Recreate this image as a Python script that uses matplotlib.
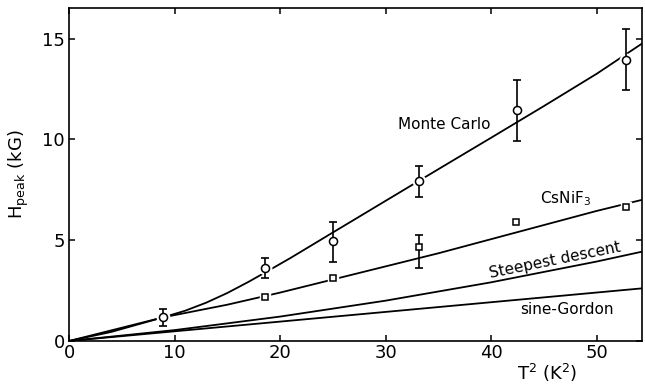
import matplotlib
matplotlib.use('Agg')
import matplotlib.pyplot as plt

plt.rcParams['font.family'] = ['DejaVu Sans']

# Data ########################################################################
# Monte Carlo points (circles) with error bars
mc_x = [8.9, 18.6, 25.0, 33.2, 42.5, 52.8]
mc_y = [1.17, 3.6, 4.95, 7.95, 11.45, 13.95]
mc_lo = [0.74, 3.1, 3.93, 7.12, 9.93, 12.47]
mc_hi = [1.58, 4.1, 5.91, 8.67, 12.93, 15.45]
# CsNiF3 points (squares)
cs_x = [18.6, 25.0, 33.2, 42.4, 52.8]
cs_y = [2.16, 3.1, 4.67, 5.88, 6.66]
cs_err_x = [33.2]
cs_err_lo = [3.6]
cs_err_hi = [5.25]
# curves
mc_curve_x = [0, 4, 8.9, 11, 13, 15, 17, 19, 21, 25, 30, 35, 40, 45, 50, 54.3]
mc_curve_y = [0, 0.45, 1.17, 1.5, 1.9, 2.38, 2.93, 3.52, 4.12, 5.38, 6.95,
              8.52, 10.08, 11.65, 13.25, 14.75]
cs_curve_x = [0, 8.9, 15, 20, 25, 30, 35, 40, 45, 50, 54.3]
cs_curve_y = [0, 1.17, 1.8, 2.4, 3.05, 3.7, 4.35, 5.05, 5.75, 6.45, 7.0]
sd_curve_x = [0, 10, 20, 30, 40, 50, 54.3]
sd_curve_y = [0, 0.54, 1.21, 2.0, 2.91, 3.94, 4.43]
sg_curve_x = [0, 54.3]
sg_curve_y = [0, 2.61]

# Plot ########################################################################
fig = plt.figure(figsize=(6.45, 3.85), dpi=100)
ax = fig.add_axes([0.107, 0.1143, 0.8883, 0.8641])

LW = 1.3
for cx, cy in [(mc_curve_x, mc_curve_y), (cs_curve_x, cs_curve_y),
               (sd_curve_x, sd_curve_y), (sg_curve_x, sg_curve_y)]:
    ax.plot(cx, cy, color='black', lw=LW, zorder=1)

# white halo so the lines break around the symbols
ax.plot(mc_x, mc_y, 'o', ms=9, mfc='white', mec='white', zorder=2)
ax.plot(cs_x, cs_y, 's', ms=7.5, mfc='white', mec='white', zorder=2)

mc_err = [[y - lo for y, lo in zip(mc_y, mc_lo)],
          [hi - y for y, hi in zip(mc_y, mc_hi)]]
ax.errorbar(mc_x, mc_y, yerr=mc_err, fmt='none', ecolor='black',
            elinewidth=1.2, capsize=2.6, capthick=1.2, zorder=3)
cs_yerr_y = [cs_y[cs_x.index(x)] for x in cs_err_x]
cs_err = [[y - lo for y, lo in zip(cs_yerr_y, cs_err_lo)],
          [hi - y for y, hi in zip(cs_yerr_y, cs_err_hi)]]
ax.errorbar(cs_err_x, cs_yerr_y, yerr=cs_err, fmt='none', ecolor='black',
            elinewidth=1.2, capsize=2.6, capthick=1.2, zorder=3)

ax.plot(mc_x, mc_y, 'o', ms=5.8, mfc='white', mec='black', mew=1.1, zorder=4)
ax.plot(cs_x, cs_y, 's', ms=4.8, mfc='white', mec='black', mew=1.1, zorder=4)

# labels on the curves
ax.text(35.6, 10.75, 'Monte Carlo', fontsize=11, ha='center', va='center')
ax.text(47.1, 7.04, r'CsNiF$_3$', fontsize=11, ha='center', va='center')
ax.text(46.1, 4.01, 'Steepest descent', fontsize=11, ha='center',
        va='center', rotation=11.5)
ax.text(47.2, 1.54, 'sine-Gordon', fontsize=11, ha='center', va='center')

ax.set_xlim(0, 54.3)
ax.set_ylim(0, 16.5)
ax.set_xticks([0, 10, 20, 30, 40, 50])
ax.set_yticks([0, 5, 10, 15])
ax.tick_params(direction='in', length=4.5, width=1.1, labelsize=13,
               top=True, right=True, pad=3)
ax.tick_params(axis='x', pad=2)
for s in ax.spines.values():
    s.set_linewidth(1.2)

ax.set_ylabel(r'H$_{\rm peak}$ (kG)', fontsize=13, labelpad=8)
fig.text(0.848, 0.031, r'T$^2$ (K$^2$)', fontsize=13, ha='center',
         va='center')

plt.savefig('out.png', dpi=100)
plt.close()
